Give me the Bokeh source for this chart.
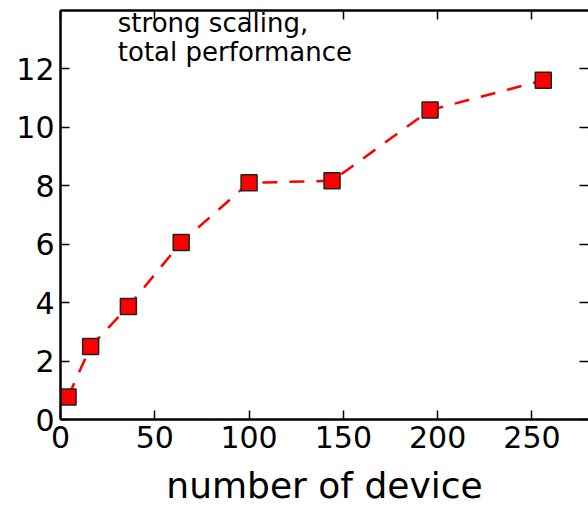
from bokeh.plotting import figure
from bokeh.models import Range1d, LinearAxis, Label, FixedTicker
from bokeh.embed import file_html
from bokeh.resources import INLINE

devices = [4, 16, 36, 64, 100, 144, 196, 256]
performance = [0.77, 2.50, 3.87, 6.06, 8.10, 8.17, 10.59, 11.61]
x_ticks = [0, 50, 100, 150, 200, 250]
y_ticks = [0, 2, 4, 6, 8, 10, 12]
x_label = "number of device"
note_lines = ["strong scaling,", "total performance"]

FONT = "DejaVu Sans"

p = figure(width=588, height=508, output_backend="svg", toolbar_location=None,
           x_range=Range1d(0, 280), y_range=Range1d(0, 14),
           min_border_left=60, min_border_right=0, min_border_top=10,
           min_border_bottom=88, x_axis_label=x_label)
p.outline_line_color = None
p.grid.visible = False
p.background_fill_color = "white"
p.border_fill_color = "white"

def style(ax, labels=True):
    ax.axis_line_width = 2.5
    ax.axis_line_color = "black"
    ax.major_tick_in = 9
    ax.major_tick_out = 0
    ax.major_tick_line_width = 1.5
    ax.minor_tick_line_color = None
    ax.major_label_text_font = FONT
    if labels:
        ax.major_label_text_font_size = "30px"
        ax.major_label_text_color = "black"
        ax.major_label_standoff = 6
    else:
        ax.major_label_text_font_size = "1px"
        ax.major_label_text_color = None
        ax.major_label_standoff = 0

xa = p.xaxis[0]
ya = p.yaxis[0]
xa.ticker = FixedTicker(ticks=x_ticks)
ya.ticker = FixedTicker(ticks=y_ticks)
style(xa)
style(ya)
xa.axis_label_text_font = FONT
xa.axis_label_text_font_size = "36px"
xa.axis_label_text_font_style = "normal"
xa.axis_label_text_color = "black"
xa.axis_label_standoff = 14

top = LinearAxis(ticker=FixedTicker(ticks=x_ticks))
style(top, labels=False)
p.add_layout(top, "above")
right = LinearAxis(ticker=FixedTicker(ticks=y_ticks))
style(right, labels=False)
right.axis_line_color = None
p.add_layout(right, "right")

p.line(devices, performance, line_color="red", line_width=2.5, line_dash="15 12")
p.scatter(devices, performance, marker="square", size=16, fill_color="red",
          line_color="#222222", line_width=1.5)

for i, t in enumerate(note_lines):
    p.add_layout(Label(x=30.4, y=13.56 - 0.97 * i, text=t, text_font=FONT,
                       text_font_size="26px", text_color="black",
                       text_baseline="alphabetic"))

open("out.html", "w").write(file_html(p, INLINE))
